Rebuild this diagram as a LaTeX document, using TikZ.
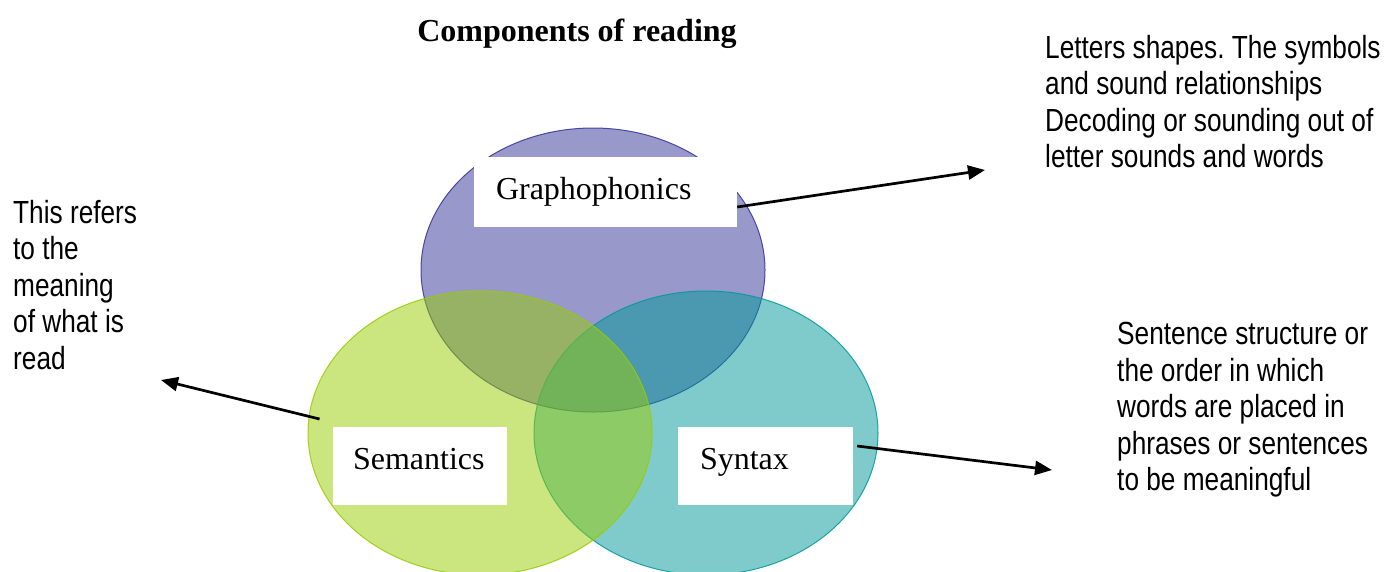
\documentclass[tikz,border=0pt]{standalone}
\usepackage{fontspec}
\setmainfont{Liberation Serif}
\newfontfamily\narrowsans[FakeStretch=0.82]{Liberation Sans}
\usetikzlibrary{shapes.geometric,arrows.meta,calc}
\definecolor{gpurple}{RGB}{51,51,153}
\definecolor{sgreen}{RGB}{153,204,0}
\definecolor{steal}{RGB}{0,153,153}
\frenchspacing
\begin{document}
\begin{tikzpicture}[x=1pt,y=-1pt,
 venn/.style={ellipse, minimum width=344pt, minimum height=284pt, inner sep=0pt, fill opacity=0.5, draw opacity=0.85, line width=1pt},
 whitebox/.style={rectangle, fill=white, draw=none, inner sep=0pt},
 boxtext/.style={font=\fontsize{32}{36}\selectfont, inner sep=0pt, anchor=base west},
 note/.style={font=\narrowsans\fontsize{32}{36.5}\selectfont, align=left, inner sep=0pt, anchor=north west},
 pointer/.style={line width=2.7pt, -{Triangle[length=17pt,width=14pt]}}
]
\useasboundingbox (0,0) rectangle (1384,571);
\fill[white] (0,0) rectangle (1384,571);

% circles
\node[venn, fill=gpurple, draw=gpurple] (gc) at (593,270) {};
\node[venn, fill=steal, draw=steal] (tc) at (706,433) {};
\node[venn, fill=sgreen, draw=sgreen] (sc) at (480,433) {};

% label boxes
\node[whitebox, minimum width=263pt, minimum height=70pt] (gbox) at (605.5,192) {};
\node[whitebox, minimum width=174pt, minimum height=78pt] (sbox) at (420,466) {};
\node[whitebox, minimum width=175pt, minimum height=78pt] (tbox) at (765.5,466) {};

\node[boxtext] (gtext) at ($(gbox.north west)+(22,43)$) {Graphophonics};
\node[boxtext] (stext) at ($(sbox.north west)+(20,43)$) {Semantics};
\node[boxtext] (ttext) at ($(tbox.north west)+(22,43)$) {Syntax};

% title
\node[font=\bfseries\fontsize{32}{36}\selectfont, anchor=base, inner sep=0pt] (title) at (577,41) {Components of reading};

% notes
\node[note] (leftnote) at (13,200) {This refers\\to the\\meaning\\of what is\\read};
\node[note] (gnote) at (1045,35) {Letters shapes. The symbols\\and sound relationships\\Decoding or sounding out of\\letter sounds and words};
\begin{scope}
\clip (1100,300) rectangle (1384,496);
\node[note] (tnote) at (1117,322) {Sentence structure or\\the order in which\\words are placed in\\phrases or sentences\\to be meaningful};
\end{scope}

% connectors
\coordinate (gtip) at (985,170);
\coordinate (stip) at (161,380);
\coordinate (ttip) at (1052,470);
\draw[pointer] ($(gbox.east)+(0,15)$) -- (gtip);
\draw[pointer] ($(sc.west)+(12,-14)$) -- (stip);
\draw[pointer] ($(tbox.east)+(4,-20)$) -- (ttip);
\end{tikzpicture}
\end{document}
